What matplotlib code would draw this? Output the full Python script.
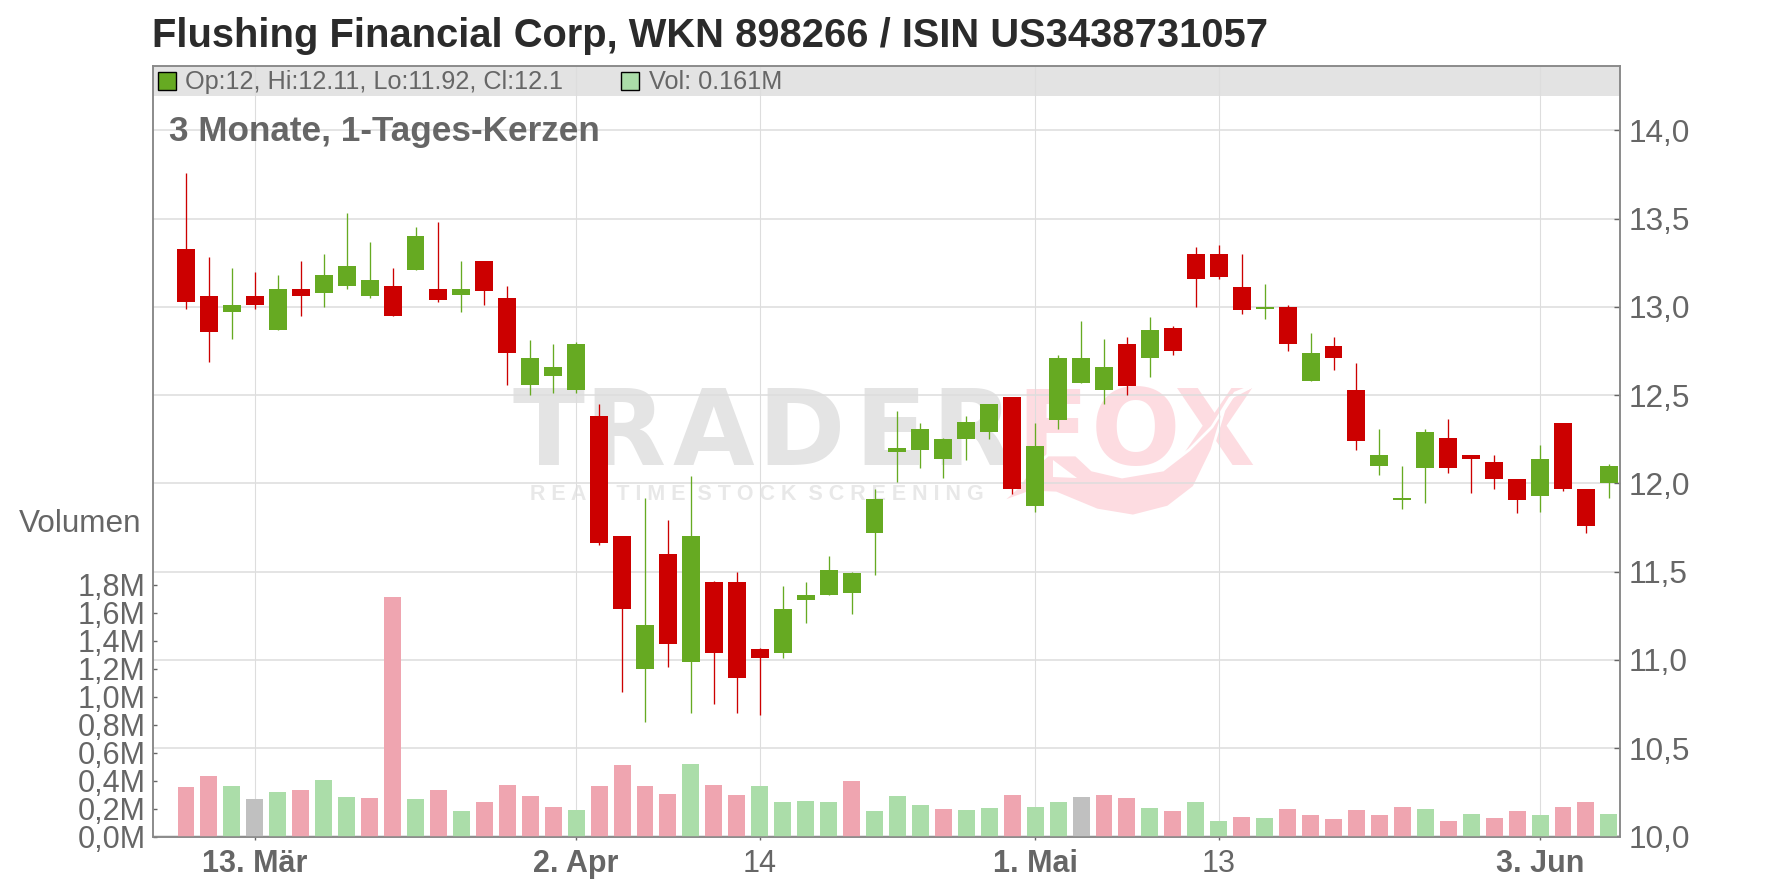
import matplotlib
matplotlib.use("Agg")
import matplotlib.pyplot as plt
from matplotlib.patches import Rectangle, Polygon

plt.rcParams['font.family'] = ['Liberation Sans', 'DejaVu Sans']

W, H = 1776, 888

title = "Flushing Financial Corp, WKN 898266 / ISIN US3438731057"
subtitle = "3 Monate, 1-Tages-Kerzen"
legend_ohlc = "Op:12, Hi:12.11, Lo:11.92, Cl:12.1"
legend_vol = "Vol: 0.161M"

body_top = [13.33,13.06,13.01,13.06,13.10,13.10,13.18,13.23,13.15,13.12,13.40,
            13.10,13.10,13.26,13.05,12.71,12.66,12.79,12.38,11.70,11.20,
            11.60,11.70,11.44,11.44,11.06,11.29,11.37,11.51,11.49,11.91,
            12.20,12.31,12.25,12.35,12.45,12.49,12.21,12.71,12.71,12.66,
            12.79,12.87,12.88,13.30,13.30,13.115,13.00,13.00,12.74,12.78,
            12.53,12.16,11.92,12.29,12.26,12.16,12.12,12.025,12.14,12.34,
            11.97,12.10]
body_bot = [13.03,12.86,12.97,13.01,12.87,13.06,13.08,13.12,13.06,12.95,13.21,
            13.04,13.07,13.09,12.74,12.56,12.61,12.53,11.66,11.29,10.95,
            11.09,10.99,11.04,10.90,11.01,11.04,11.34,11.37,11.38,11.72,
            12.18,12.19,12.14,12.25,12.29,11.97,11.87,12.36,12.57,12.53,
            12.55,12.71,12.75,13.16,13.17,12.98,12.99,12.79,12.58,12.71,
            12.24,12.10,11.905,12.09,12.09,12.14,12.025,11.905,11.93,11.97,
            11.76,12.00]
highs = [13.76,13.28,13.22,13.20,13.18,13.26,13.30,13.53,13.37,13.22,13.45,
         13.48,13.26,13.26,13.12,12.81,12.79,12.80,12.45,11.70,11.92,
         11.79,12.04,11.45,11.50,11.07,11.42,11.44,11.59,11.50,11.97,
         12.41,12.34,12.26,12.38,12.45,12.49,12.34,12.73,12.92,12.82,
         12.83,12.945,12.89,13.34,13.35,13.30,13.13,13.01,12.85,12.83,
         12.68,12.31,12.10,12.31,12.365,12.16,12.16,12.025,12.22,12.34,
         11.97,12.11]
lows = [12.99,12.69,12.82,12.99,12.87,12.95,13.00,13.10,13.05,12.95,13.21,
        13.03,12.97,13.01,12.56,12.50,12.51,12.51,11.65,10.82,10.65,
        10.96,10.70,10.75,10.70,10.69,11.01,11.21,11.37,11.26,11.48,
        12.01,12.09,12.03,12.13,12.25,11.94,11.84,12.31,12.57,12.45,
        12.50,12.60,12.73,13.00,13.155,12.96,12.93,12.75,12.58,12.64,
        12.19,12.05,11.855,11.89,12.06,11.945,11.97,11.83,11.84,11.955,
        11.72,11.92]
candle_dir = list("rrgrgrgggr" "grgrrgggrr" "grgrrrgggg" "ggggggrggg" "grgrrrrgrg" "rrgggrrrrg" "rrg")

volumes = [.352,.431,.36,.267,.317,.331,.402,.281,.274,1.71,.267,.331,.181,.245,.367,.288,
           .21,.188,.36,.51,.36,.302,.517,.367,.295,.36,.245,.252,.245,.395,.181,.288,
           .224,.195,.188,.202,.295,.21,.245,.281,.295,.274,.202,.181,.245,.11,.138,.131,
           .195,.152,.124,.188,.152,.21,.195,.11,.16,.131,.181,.152,.21,.245,.161]
vol_dir = list("rrgngrggrr" "grgrrrrgrr" "rrgrrggggr" "gggrggrggn" "rrgrggrgrr" "rrrrgrgrrg" "rrg")

price_ticks = [10.0,10.5,11.0,11.5,12.0,12.5,13.0,13.5,14.0]
price_labels = ["10,0","10,5","11,0","11,5","12,0","12,5","13,0","13,5","14,0"]
vol_ticks = [0.0,0.2,0.4,0.6,0.8,1.0,1.2,1.4,1.6,1.8]
vol_labels = ["0,0M","0,2M","0,4M","0,6M","0,8M","1,0M","1,2M","1,4M","1,6M","1,8M"]
date_ticks = [3,17,25,37,45,59]
date_labels = ["13. Mär","2. Apr","14","1. Mai","13","3. Jun"]
date_weights = ["bold","bold","normal","bold","normal","bold"]

GREEN, RED = "#66AA22", "#CC0000"
VGREEN, VRED, VGREY = "#ABDDA9", "#EFA5B0", "#C0C0C0"
GRID = "#DDDDDD"
AXC = "#888888"
TXT = "#666666"

n = len(body_top)
x = list(range(n))

def fx(px): return px / W
def fy(py): return 1 - py / H

fig = plt.figure(figsize=(W/100, H/100), dpi=100, facecolor="white")
L, R, T, B = 152.5, 1620, 66, 836.5
ax = fig.add_axes([fx(L), fy(B), fx(R-L), (B-T)/H], zorder=1)
axv = ax.twinx()
axv.set_zorder(2)
axv.patch.set_visible(False)

ax.set_xlim((L-186)/22.95, (R-186)/22.95)
ax.set_ylim(10.0, 14.0 + (130.3-T)/176.5)
axv.set_ylim(0, (B-T)/140.0)

# header band
ax.add_patch(Rectangle((0, 1-30/(B-T)), 1, 30/(B-T), transform=ax.transAxes,
                       facecolor="#E3E3E3", edgecolor="none", zorder=0.2))

# watermark
wm = dict(transform=fig.transFigure, zorder=0.3, clip_on=False, family="DejaVu Sans",
          fontsize=76, fontweight="bold", ha="center", va="baseline")
for ch, px in zip("TRADER", [548, 625, 713, 801, 890, 972]):
    ax.text(fx(px), fy(465), ch, color="#E4E4E4", **wm)
for ch, px in zip("FOX", [1052, 1136, 1215]):
    ax.text(fx(px), fy(465), ch, color="#FDDCE1", **wm)
ax.text(fx(757), fy(494), "R E A L  T I M E  S T O C K  S C R E E N I N G", fontsize=15.5,
        fontweight="bold", color="#E8E8E8", ha="center", va="center",
        transform=fig.transFigure, zorder=0.3, clip_on=False)
flame = [(1000,503),(1018,487),(1030,470),(1048,455),(1076,455),(1092,470),(1122,477),(1163,470),
         (1189,450),(1212,427),(1230,398),(1255,385),(1235,393),(1224,410),(1212,450),(1194,487),
         (1168,507),(1133,516),(1097,510),(1056,493),(1030,492)]
ax.add_patch(Polygon([(fx(a), fy(b)) for a, b in flame], closed=True, transform=fig.transFigure,
                     facecolor="#FDDCE1", edgecolor="white", linewidth=2, zorder=0.31, clip_on=False))
notch = [(1053,460),(1077,478),(1053,477)]
ax.add_patch(Polygon([(fx(a), fy(b)) for a, b in notch], closed=True, transform=fig.transFigure,
                     facecolor="white", edgecolor="none", zorder=0.32, clip_on=False))

# grid
ax.set_axisbelow(True)
ax.set_yticks(price_ticks)
ax.set_yticklabels(price_labels)
ax.set_xticks(date_ticks)
ax.set_xticklabels(date_labels)
ax.grid(True, axis="y", color=GRID, linewidth=1.1)
ax.grid(True, axis="x", color=GRID, linewidth=0.8)
for lab, wt in zip(ax.get_xticklabels(), date_weights):
    lab.set_fontweight(wt)

# candles
cols = [GREEN if d == "g" else RED for d in candle_dir]
ax.vlines(x, lows, highs, colors=cols, linewidth=0.95, zorder=2)
ax.bar(x, [max(t-b, 0.012) for t, b in zip(body_top, body_bot)], bottom=body_bot,
       width=0.784, color=cols, linewidth=0, zorder=3)

# volume
vmap = {"g": VGREEN, "r": VRED, "n": VGREY}
axv.bar(x, volumes, width=0.74, color=[vmap[d] for d in vol_dir], linewidth=0, zorder=2)
axv.set_yticks(vol_ticks)
axv.set_yticklabels(vol_labels)

# axis styling
ax.yaxis.tick_right()
axv.yaxis.tick_left()
ax.tick_params(axis="y", which="major", direction="in", length=4, width=1, color="#666666",
               labelsize=22.8, labelcolor=TXT, pad=6)
ax.tick_params(axis="x", which="major", direction="out", length=2, width=1, color="#666666",
               labelsize=22, labelcolor=TXT, pad=7)
axv.tick_params(axis="y", direction="in", length=3, width=1, color="#666666",
                labelsize=22, labelcolor=TXT, pad=5)
for a in (ax, axv):
    for s in a.spines.values():
        s.set_color(AXC)
        s.set_linewidth(1.1)

# texts
fig.text(fx(152), fy(36), title, fontsize=28.75, fontweight="bold", color="#2B2B2B", va="center", ha="left")
fig.text(fx(169), fy(131), subtitle, fontsize=25.3, fontweight="bold", color=TXT, va="center", ha="left", zorder=5)
fig.text(fx(19), fy(524), "Volumen", fontsize=22.7, color=TXT, va="center", ha="left")
fig.text(fx(185), fy(82), legend_ohlc, fontsize=18.2, color=TXT, va="center", ha="left", zorder=5)
fig.text(fx(649), fy(82), legend_vol, fontsize=18.2, color=TXT, va="center", ha="left", zorder=5)
for px0, fc in ((158, GREEN), (621, VGREEN)):
    fig.add_artist(Rectangle((fx(px0), fy(90.5)), 18/W, 18.5/H, transform=fig.transFigure,
                             facecolor=fc, edgecolor="black", linewidth=1, zorder=5))

fig.savefig("out.png", dpi=100)
